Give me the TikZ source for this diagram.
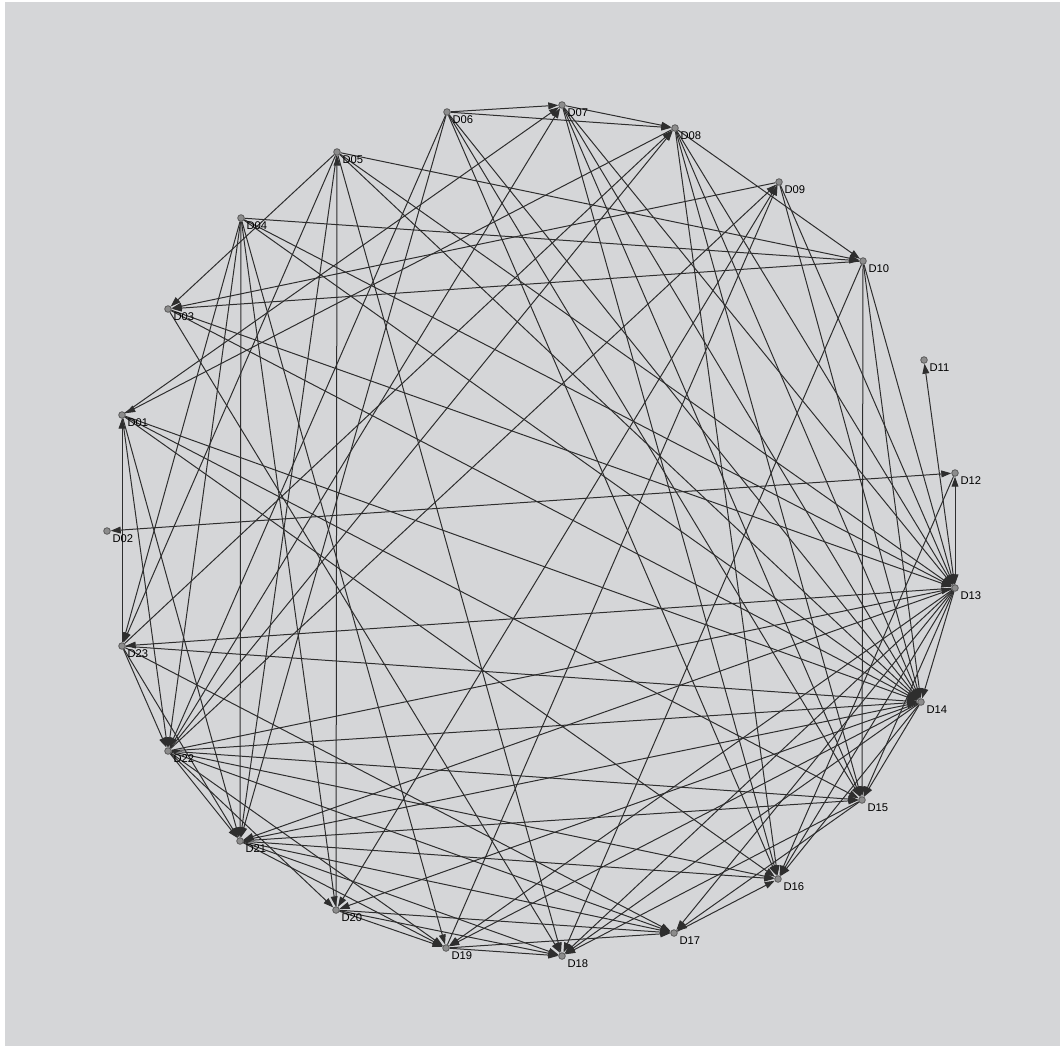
\documentclass[tikz,border=0pt]{standalone}
\usepackage{fontspec}
\setmainfont{Liberation Sans}
\usetikzlibrary{arrows.meta}
\pgfdeclarelayer{edges}
\pgfsetlayers{edges,main}
\definecolor{panel}{RGB}{213,214,216}
\definecolor{dotfill}{RGB}{140,140,140}
\tikzset{
  dot/.style={circle,draw=black!65,fill=dotfill,line width=0.4pt,minimum size=3.3pt,inner sep=0pt},
  dlab/.style={font=\fontsize{5.6}{6}\selectfont,inner sep=0.4pt,label distance=0.3pt,yshift=-3.8pt},
  edge/.style={line width=0.5pt,draw=black!82,-{Triangle[length=5pt,width=3.4pt]}},
  both/.style={line width=0.5pt,draw=black!82,{Triangle[length=5pt,width=3.4pt]}-{Triangle[length=5pt,width=3.4pt]}}
}
\begin{document}
\begin{tikzpicture}[x=0.5pt,y=-0.5pt]
\useasboundingbox (0,0) rectangle (1064,1050);
% 节点
\node[dot,label={[dlab]right:D01}] (d01) at (122,415) {};
\node[dot,label={[dlab]right:D02}] (d02) at (107,531) {};
\node[dot,label={[dlab]right:D03}] (d03) at (168,309) {};
\node[dot,label={[dlab]right:D04}] (d04) at (241,218) {};
\node[dot,label={[dlab]right:D05}] (d05) at (337,152) {};
\node[dot,label={[dlab]right:D06}] (d06) at (447,112) {};
\node[dot,label={[dlab]right:D07}] (d07) at (562,105) {};
\node[dot,label={[dlab]right:D08}] (d08) at (675,128) {};
\node[dot,label={[dlab]right:D09}] (d09) at (779,182) {};
\node[dot,label={[dlab]right:D10}] (d10) at (863,261) {};
\node[dot,label={[dlab]right:D11}] (d11) at (924,360) {};
\node[dot,label={[dlab]right:D12}] (d12) at (955,473) {};
\node[dot,label={[dlab]right:D13}] (d13) at (955,588) {};
\node[dot,label={[dlab]right:D14}] (d14) at (921,702) {};
\node[dot,label={[dlab]right:D15}] (d15) at (862,800) {};
\node[dot,label={[dlab]right:D16}] (d16) at (778,879) {};
\node[dot,label={[dlab]right:D17}] (d17) at (674,933) {};
\node[dot,label={[dlab]right:D18}] (d18) at (562,956) {};
\node[dot,label={[dlab]right:D19}] (d19) at (446,948) {};
\node[dot,label={[dlab]right:D20}] (d20) at (336,910) {};
\node[dot,label={[dlab]right:D21}] (d21) at (240,841) {};
\node[dot,label={[dlab]right:D22}] (d22) at (168,751) {};
\node[dot,label={[dlab]right:D23}] (d23) at (122,646) {};
\begin{pgfonlayer}{edges}
% 背景
\fill[white] (0,0) rectangle (1064,1050);
\fill[panel] (5,2) rectangle (1060,1046);
% 上方
\draw[edge] (d06) -- (d07); \draw[edge] (d06) -- (d08); \draw[edge] (d07) -- (d08);
\draw[edge] (d08) -- (d10); \draw[edge] (d05) -- (d10); \draw[edge] (d04) -- (d10);
\draw[edge] (d09) -- (d03); \draw[edge] (d10) -- (d03); \draw[edge] (d05) -- (d03);
\draw[edge] (d08) -- (d01); \draw[edge] (d01) -- (d07);
\draw[both] (d02) -- (d12);
% 右侧
\draw[edge] (d13) -- (d11); \draw[both] (d13) -- (d12); \draw[edge] (d13) -- (d14);
\draw[edge] (d12) -- (d16);
% 左上出发
\draw[edge] (d04) -- (d21); \draw[edge] (d20) -- (d05);
\draw[edge] (d04) -- (d23); \draw[edge] (d04) -- (d22); \draw[edge] (d04) -- (d20);
\draw[edge] (d04) -- (d19); \draw[edge] (d04) -- (d13); \draw[edge] (d04) -- (d14);
\draw[edge] (d03) -- (d18); \draw[edge] (d03) -- (d13); \draw[edge] (d03) -- (d14);
\draw[edge] (d01) -- (d14); \draw[edge] (d01) -- (d15); \draw[edge] (d01) -- (d16);
\draw[edge] (d23) -- (d01); \draw[edge] (d01) -- (d22); \draw[edge] (d01) -- (d21);
\draw[edge] (d05) -- (d23); \draw[edge] (d05) -- (d13); \draw[edge] (d05) -- (d14);
\draw[edge] (d05) -- (d18); \draw[edge] (d05) -- (d21);
\draw[edge] (d06) -- (d21); \draw[edge] (d06) -- (d22); \draw[edge] (d06) -- (d16);
\draw[edge] (d06) -- (d15); \draw[edge] (d06) -- (d14);
\draw[edge] (d07) -- (d16); \draw[edge] (d07) -- (d15); \draw[edge] (d07) -- (d14); \draw[edge] (d07) -- (d13);
\draw[edge] (d08) -- (d16); \draw[edge] (d08) -- (d15); \draw[edge] (d08) -- (d14); \draw[edge] (d08) -- (d13);
\draw[edge] (d09) -- (d13); \draw[edge] (d09) -- (d14); \draw[edge] (d09) -- (d20);
\draw[edge] (d10) -- (d18); \draw[edge] (d10) -- (d15); \draw[edge] (d10) -- (d14); \draw[edge] (d10) -- (d13);
% 左下出发
\draw[edge] (d23) -- (d08); \draw[edge] (d13) -- (d23); \draw[edge] (d23) -- (d14);
\draw[edge] (d23) -- (d21); \draw[edge] (d23) -- (d17); \draw[edge] (d23) -- (d22);
\draw[edge] (d22) -- (d13); \draw[edge] (d22) -- (d14); \draw[edge] (d22) -- (d15);
\draw[edge] (d22) -- (d16); \draw[edge] (d22) -- (d17); \draw[edge] (d22) -- (d19);
\draw[edge] (d22) -- (d21); \draw[edge] (d22) -- (d20); \draw[edge] (d22) -- (d08);
\draw[edge] (d22) -- (d09); \draw[edge] (d22) -- (d07);
\draw[edge] (d13) -- (d21); \draw[edge] (d21) -- (d14); \draw[edge] (d21) -- (d16);
\draw[edge] (d21) -- (d17); \draw[edge] (d21) -- (d19); \draw[edge] (d21) -- (d15); \draw[edge] (d21) -- (d18);
\draw[edge] (d20) -- (d19); \draw[edge] (d20) -- (d17); \draw[edge] (d20) -- (d18);
\draw[edge] (d14) -- (d20);
\draw[edge] (d19) -- (d09); \draw[edge] (d19) -- (d18); \draw[edge] (d19) -- (d17);
% 右下
\draw[edge] (d13) -- (d17); \draw[edge] (d13) -- (d18); \draw[edge] (d13) -- (d19);
\draw[edge] (d14) -- (d18); \draw[edge] (d14) -- (d19); \draw[edge] (d14) -- (d15); \draw[edge] (d14) -- (d16);
\draw[edge] (d13) -- (d15); \draw[edge] (d13) -- (d16);
\draw[edge] (d15) -- (d17); \draw[edge] (d15) -- (d18); \draw[edge] (d17) -- (d16);
\end{pgfonlayer}
\end{tikzpicture}
\end{document}
